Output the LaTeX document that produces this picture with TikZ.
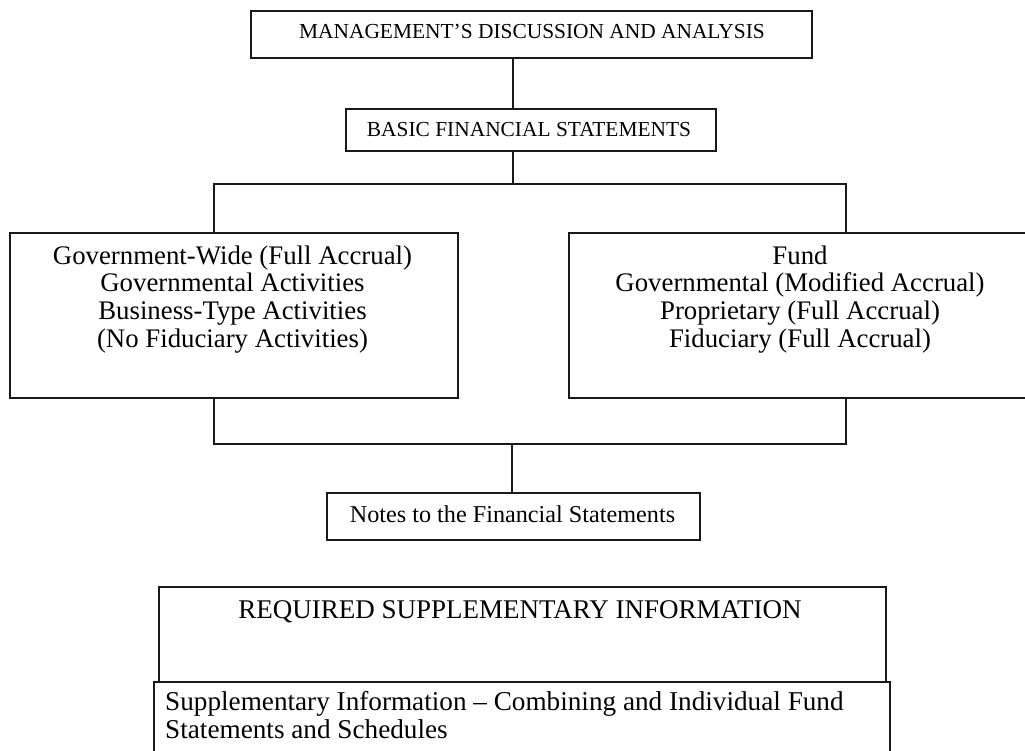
\documentclass[tikz,border=0pt]{standalone}
\usepackage{fontspec}
\setmainfont{Liberation Serif}
\begin{document}
\begin{tikzpicture}[x=1pt,y=-1pt,
  box/.style={draw=black!90,line width=1.6pt,rectangle,inner sep=0pt,anchor=north west},
  conn/.style={draw=black!90,line width=1.3pt},
  small/.style={inner sep=0pt,anchor=base,font=\fontsize{21.4}{24}\selectfont},
  big/.style={inner sep=0pt,anchor=north,align=center,font=\fontsize{26.8}{27.6}\selectfont},
  mid/.style={inner sep=0pt,anchor=base,font=\fontsize{24.2}{27}\selectfont}]
\useasboundingbox (0,0) rectangle (1025,750);
\clip (0,0) rectangle (1025,750);
% boxes
\node[box,minimum width=561pt,minimum height=47pt] (mda) at (250,10) {};
\node[small] (mdat) at (532,38) {MANAGEMENT’S DISCUSSION AND ANALYSIS};
\node[box,minimum width=370pt,minimum height=42pt] (bfs) at (345,108) {};
\node[small] (bfst) at (529,136) {BASIC FINANCIAL STATEMENTS};
\node[box,minimum width=448pt,minimum height=165pt] (gw) at (9,232) {};
\node[big] (gwt) at (232.5,245.5) {Government-Wide (Full Accrual)\\Governmental Activities\\Business-Type Activities\\(No Fiduciary Activities)};
\node[box,minimum width=480pt,minimum height=165pt] (fund) at (568,232) {};
\node[big] (fundt) at (800,245.5) {Fund\\Governmental (Modified Accrual)\\Proprietary (Full Accrual)\\Fiduciary (Full Accrual)};
\node[box,minimum width=373pt,minimum height=47pt] (notes) at (326,492) {};
\node[mid] (notest) at (512.5,522) {Notes to the Financial Statements};
\node[box,minimum width=727pt,minimum height=95pt] (rsi) at (158,586) {};
\node[inner sep=0pt,anchor=base,font=\fontsize{27}{28}\selectfont] (rsit) at (520,618) {REQUIRED SUPPLEMENTARY INFORMATION};
\node[box,minimum width=736pt,minimum height=90pt] (supp) at (153,681) {};
\node[inner sep=0pt,anchor=north west,align=left,font=\fontsize{27.2}{28}\selectfont] (suppt) at (165,691) {Supplementary Information – Combining and Individual Fund\\Statements and Schedules};
% connectors
\coordinate (j1) at (513,184);
\coordinate (jl) at (214,184);
\coordinate (jr) at (846,184);
\coordinate (k1) at (512,444);
\coordinate (kl) at (214,444);
\coordinate (kr) at (846,444);
\draw[conn] (mda.south -| j1) -- (bfs.north -| j1);
\draw[conn] (bfs.south -| j1) -- (j1);
\draw[conn] (jl |- gw.north) -- (jl) -- (jr) -- (jr |- fund.north);
\draw[conn] (kl |- gw.south) -- (kl) -- (kr) -- (kr |- fund.south);
\draw[conn] (k1) -- (k1 |- notes.north);
\end{tikzpicture}
\end{document}
